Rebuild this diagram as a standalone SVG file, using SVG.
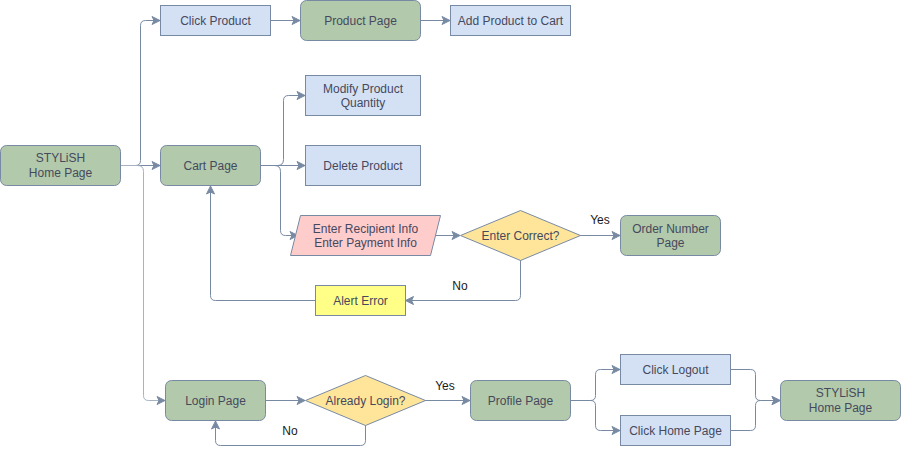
<svg xmlns="http://www.w3.org/2000/svg" width="901" height="454" viewBox="0 0 901 454">
<defs>
<style>
.t{font-family:"Liberation Sans",Arial,sans-serif;font-size:12px;fill:#46495D;text-anchor:middle}
.g{fill:#B2C9AB;stroke:#788AA3;stroke-width:1}
.b{fill:#D4E1F5;stroke:#788AA3;stroke-width:1}
.p{fill:#FFCCCC;stroke:#788AA3;stroke-width:1}
.d{fill:#FFE599;stroke:#788AA3;stroke-width:1}
.y{fill:#FFFF88;stroke:#788AA3;stroke-width:1}
.e{fill:none;stroke:#788AA3;stroke-width:1}
.lb{font-family:"Liberation Sans",Arial,sans-serif;font-size:12px;fill:#1A1A1A;text-anchor:middle}
</style>
<marker id="ar" markerUnits="userSpaceOnUse" markerWidth="10" markerHeight="10" viewBox="0 0 10 10" refX="9" refY="5" orient="auto">
<path d="M1,1 L9,5 L1,9 L3,5 Z" fill="#788AA3" stroke="#788AA3" stroke-width="1"/>
</marker>
</defs>
<rect width="901" height="454" fill="#FFFFFF"/>
<g id="connectors" class="e">
<path marker-end="url(#ar)" d="M120.5,165.5 L135.5,165.5 Q140.5,165.5 140.5,160.5 L140.5,25.5 Q140.5,20.5 145.5,20.5 L160,20.5"/>
<path marker-end="url(#ar)" d="M120.5,165.5 L160,165.5"/>
<path marker-end="url(#ar)" d="M120.5,165.5 L137.5,165.5 Q143.5,165.5 143.5,171.5 L143.5,395.5 Q143.5,400.5 148.5,400.5 L165,400.5" stroke="#A7B3C4"/>
<path marker-end="url(#ar)" d="M270.5,20.5 L300,20.5"/>
<path marker-end="url(#ar)" d="M420.5,20.5 L450,20.5"/>
<path marker-end="url(#ar)" d="M260.5,165.5 L277.5,165.5 Q283.5,165.5 283.5,159.5 L283.5,100.5 Q283.5,95.5 288.5,95.5 L305,95.5"/>
<path marker-end="url(#ar)" d="M260.5,165.5 L305,165.5"/>
<path marker-end="url(#ar)" d="M260.5,165.5 L274.5,165.5 Q280.5,165.5 280.5,171.5 L280.5,230.5 Q280.5,235.5 285.5,235.5 L298,235.5"/>
<path marker-end="url(#ar)" d="M435,235.5 L460,235.5"/>
<path marker-end="url(#ar)" d="M580,235.5 L620,235.5"/>
<path marker-end="url(#ar)" d="M520.5,260 L520.5,295.5 Q520.5,300.5 515.5,300.5 L405.5,300.5"/>
<path marker-end="url(#ar)" d="M315.5,300.5 L215.5,300.5 Q210.5,300.5 210.5,295.5 L210.5,186"/>
<path marker-end="url(#ar)" d="M265.5,400.5 L305,400.5"/>
<path marker-end="url(#ar)" d="M425,400.5 L470,400.5"/>
<path marker-end="url(#ar)" d="M365.5,425 L365.5,440.5 Q365.5,445.5 360.5,445.5 L220.5,445.5 Q215.5,445.5 215.5,440.5 L215.5,421"/>
<path marker-end="url(#ar)" d="M570.5,400.5 L590.5,400.5 Q595.5,400.5 595.5,395.5 L595.5,374.5 Q595.5,369.5 600.5,369.5 L620,369.5"/>
<path marker-end="url(#ar)" d="M570.5,400.5 L590.5,400.5 Q595.5,400.5 595.5,405.5 L595.5,425.5 Q595.5,430.5 600.5,430.5 L620,430.5"/>
<path marker-end="url(#ar)" d="M730.5,369.5 L750.5,369.5 Q755.5,369.5 755.5,374.5 L755.5,395.5 Q755.5,400.5 760.5,400.5 L780,400.5"/>
<path marker-end="url(#ar)" d="M730.5,430.5 L750.5,430.5 Q755.5,430.5 755.5,425.5 L755.5,405.5 Q755.5,400.5 760.5,400.5 L780,400.5"/>
</g>
<g id="labels">
<text class="lb" x="600" y="224">Yes</text>
<text class="lb" x="460" y="290">No</text>
<text class="lb" x="445" y="390">Yes</text>
<text class="lb" x="290" y="435">No</text>
</g>
<g id="home"><rect class="g" x="0.5" y="145.5" width="120" height="40" rx="6"/><text class="t" x="60.5" y="162">STYLiSH</text><text class="t" x="60.5" y="177">Home Page</text></g>
<g id="clickProduct"><rect class="b" x="160.5" y="5.5" width="110" height="30"/><text class="t" x="215.5" y="25">Click Product</text></g>
<g id="productPage"><rect class="g" x="300.5" y="0.5" width="120" height="40" rx="6"/><text class="t" x="360.5" y="25">Product Page</text></g>
<g id="addToCart"><rect class="b" x="450.5" y="5.5" width="120" height="30"/><text class="t" x="510.5" y="25">Add Product to Cart</text></g>
<g id="modify"><rect class="b" x="305.5" y="75.5" width="115" height="40"/><text class="t" x="363" y="93">Modify Product</text><text class="t" x="363" y="107">Quantity</text></g>
<g id="cartPage"><rect class="g" x="160.5" y="145.5" width="100" height="40" rx="6"/><text class="t" x="210.5" y="170">Cart Page</text></g>
<g id="delete"><rect class="b" x="305.5" y="145.5" width="115" height="40"/><text class="t" x="363" y="170">Delete Product</text></g>
<g id="enterInfo"><polygon class="p" points="300.5,215.5 440.5,215.5 430.5,255.5 290.5,255.5"/><text class="t" x="365.5" y="233">Enter Recipient Info</text><text class="t" x="365.5" y="247">Enter Payment Info</text></g>
<g id="enterCorrect"><polygon class="d" points="520.5,210.5 580.5,235.5 520.5,260.5 460.5,235.5"/><text class="t" x="520.5" y="240">Enter Correct?</text></g>
<g id="orderNumber"><rect class="g" x="620.5" y="215.5" width="100" height="40" rx="6"/><text class="t" x="670.5" y="233">Order Number</text><text class="t" x="670.5" y="247">Page</text></g>
<g id="alertError"><rect class="y" x="315.5" y="285.5" width="90" height="30"/><text class="t" x="360.5" y="305">Alert Error</text></g>
<g id="loginPage"><rect class="g" x="165.5" y="380.5" width="100" height="40" rx="6"/><text class="t" x="215.5" y="405">Login Page</text></g>
<g id="alreadyLogin"><polygon class="d" points="365.5,375.5 425.5,400.5 365.5,425.5 305.5,400.5"/><text class="t" x="365.5" y="405">Already Login?</text></g>
<g id="profilePage"><rect class="g" x="470.5" y="380.5" width="100" height="40" rx="6"/><text class="t" x="520.5" y="405">Profile Page</text></g>
<g id="clickLogout"><rect class="b" x="620.5" y="354.5" width="110" height="30"/><text class="t" x="675.5" y="374">Click Logout</text></g>
<g id="clickHomePage"><rect class="b" x="620.5" y="415.5" width="110" height="30"/><text class="t" x="675.5" y="435">Click Home Page</text></g>
<g id="home2"><rect class="g" x="780.5" y="380.5" width="120" height="40" rx="6"/><text class="t" x="840.5" y="397">STYLiSH</text><text class="t" x="840.5" y="412">Home Page</text></g>
</svg>
